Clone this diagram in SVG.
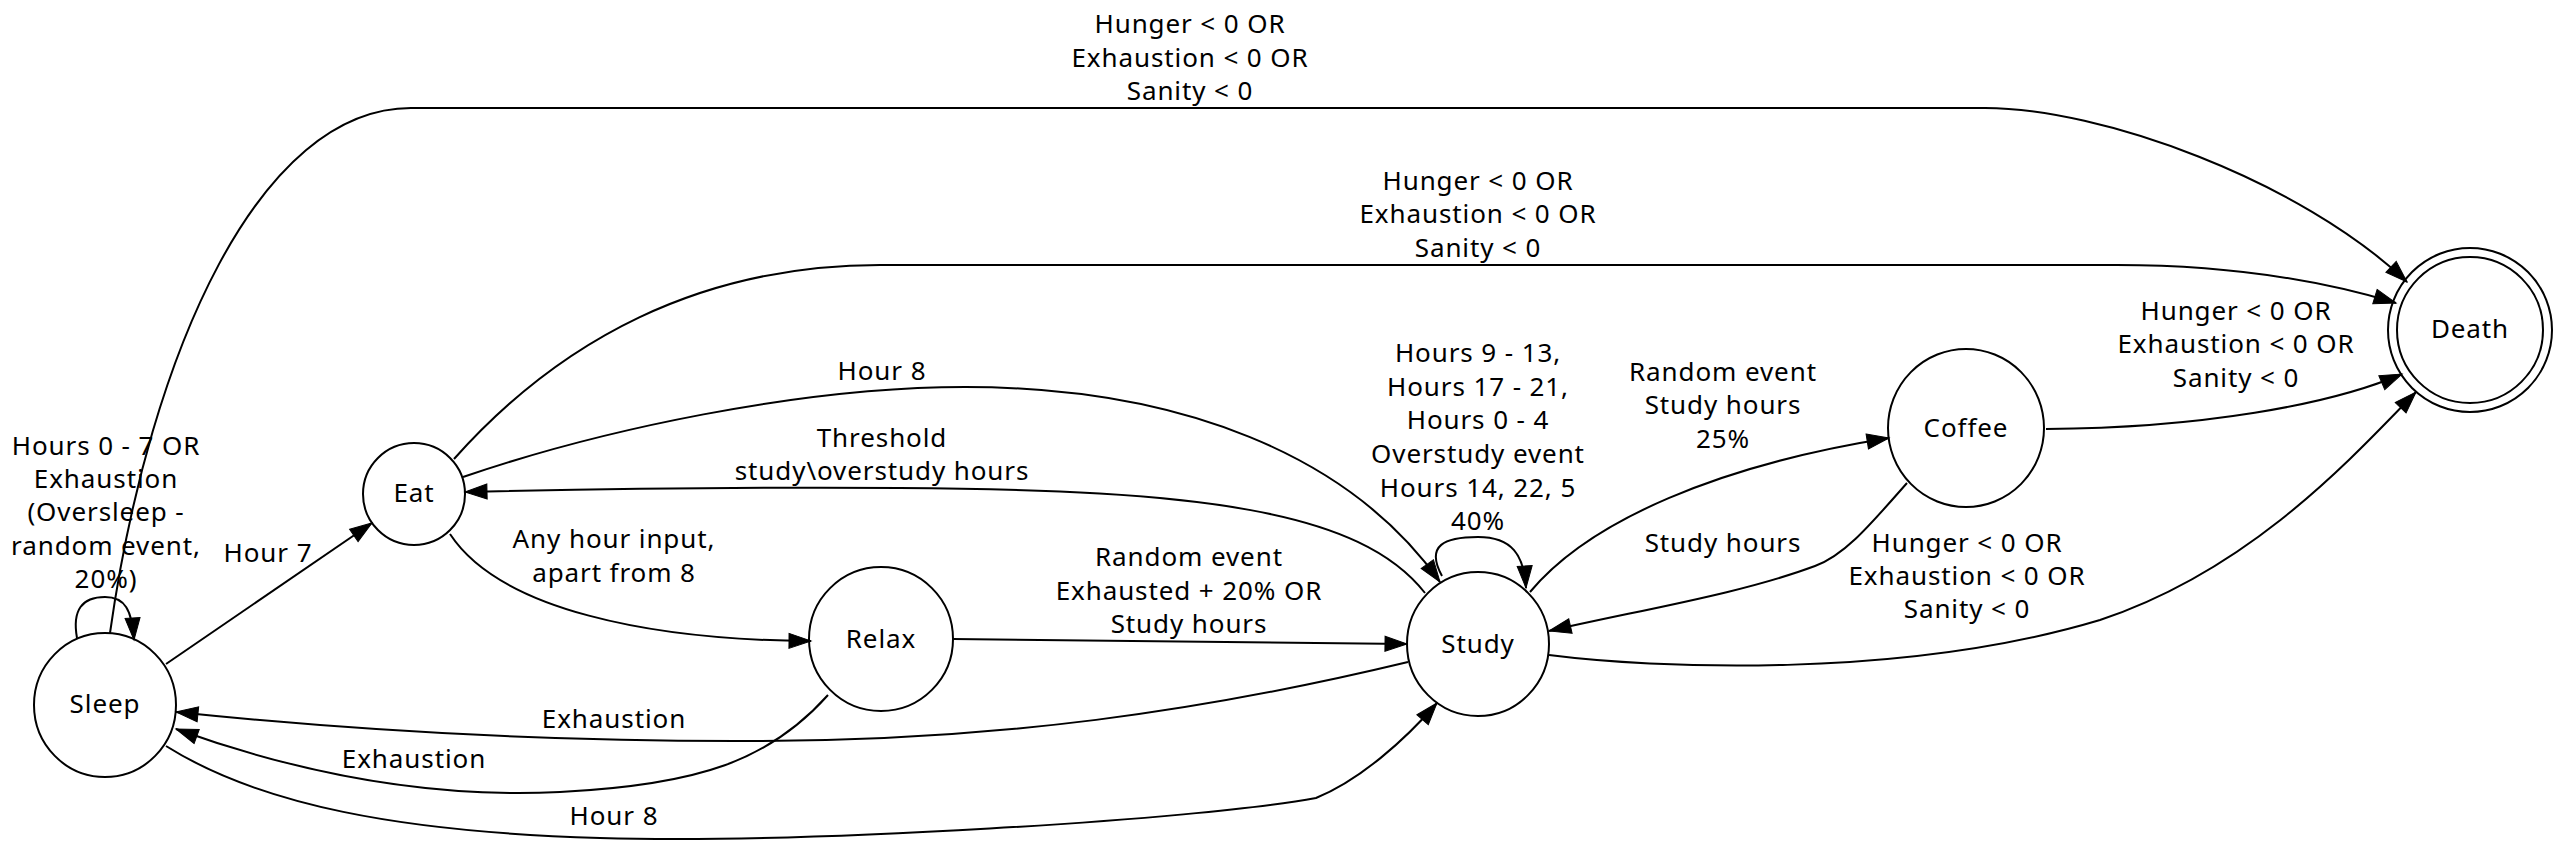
<svg xmlns="http://www.w3.org/2000/svg" width="2566" height="850" viewBox="0 0 2566 850">
<defs>
<marker id="arr" markerUnits="userSpaceOnUse" markerWidth="24" markerHeight="16" refX="22" refY="7.5" orient="auto" overflow="visible">
<path d="M0,0 L22,7.5 L0,15 Z" fill="#000" stroke="#000" stroke-width="1"/>
</marker>
<style>
.node ellipse{fill:none;stroke:#000;stroke-width:2}
.edge path{fill:none;stroke:#000;stroke-width:2;marker-end:url(#arr)}
text{font-family:"Noto Sans","Open Sans",sans-serif;font-size:26px;letter-spacing:0.9px;fill:#000;text-anchor:middle}
</style>
</defs>
<rect width="2566" height="850" fill="#fff"/>
<g id="edges">
<g class="edge" id="sleep-death"><path d="M110,633 C150,350 260,108 411,108 L1985,108 C2100,108 2300,180 2407,282"/>
<text x="1190" y="33">Hunger &lt; 0 OR</text><text x="1190" y="67">Exhaustion &lt; 0 OR</text><text x="1190" y="100">Sanity &lt; 0</text></g>
<g class="edge" id="eat-death"><path d="M454,459 C560,340 700,265 880,265 L2117,265 C2230,265 2320,280 2396,303"/>
<text x="1478" y="190">Hunger &lt; 0 OR</text><text x="1478" y="223">Exhaustion &lt; 0 OR</text><text x="1478" y="257">Sanity &lt; 0</text></g>
<g class="edge" id="eat-study"><path d="M463,477 C600,430 800,387 965,387 C1180,387 1350,455 1440,582"/>
<text x="882" y="380">Hour 8</text></g>
<g class="edge" id="study-eat"><path d="M1425,593 C1360,510 1200,490 900,488 C750,487 600,489 465,492"/>
<text x="882" y="447">Threshold</text><text x="882" y="480">study\overstudy hours</text></g>
<g class="edge" id="sleep-eat"><path d="M166,664 L372,523"/>
<text x="268" y="562">Hour 7</text></g>
<g class="edge" id="eat-relax"><path d="M450,534 C500,610 650,640 811,641"/>
<text x="614" y="548">Any hour input,</text><text x="614" y="582">apart from 8</text></g>
<g class="edge" id="relax-study"><path d="M953,639 L1407,644"/>
<text x="1189" y="566">Random event</text><text x="1189" y="600">Exhausted + 20% OR</text><text x="1189" y="633">Study hours</text></g>
<g class="edge" id="study-sleep"><path d="M1408,662 C1200,712 1000,740 760,741 C550,742 350,730 176,712"/>
<text x="614" y="728">Exhaustion</text></g>
<g class="edge" id="relax-sleep"><path d="M828,695 C770,760 700,785 560,792 C420,799 290,770 176,729"/>
<text x="414" y="768">Exhaustion</text></g>
<g class="edge" id="sleep-study"><path d="M166,746 C260,805 400,832 600,838 C800,844 1200,820 1316,798 C1360,780 1405,740 1437,703"/>
<text x="614" y="825">Hour 8</text></g>
<g class="edge" id="study-study"><path d="M1442,576 C1425,545 1445,537 1478,537 C1512,537 1524,555 1526,588"/>
<text x="1478" y="362">Hours 9 - 13,</text><text x="1478" y="396">Hours 17 - 21,</text><text x="1478" y="429">Hours 0 - 4</text><text x="1478" y="463">Overstudy event</text><text x="1478" y="497">Hours 14, 22, 5</text><text x="1478" y="530">40%</text></g>
<g class="edge" id="sleep-sleep"><path d="M77,638 C72,610 82,597 105,597 C125,597 132,610 134,640"/>
<text x="106" y="455">Hours 0 - 7 OR</text><text x="106" y="488">Exhaustion</text><text x="106" y="521">(Oversleep -</text><text x="106" y="555">random event,</text><text x="106" y="588">20%)</text></g>
<g class="edge" id="study-coffee"><path d="M1530,592 C1590,520 1720,465 1889,438"/>
<text x="1723" y="381">Random event</text><text x="1723" y="414">Study hours</text><text x="1723" y="448">25%</text></g>
<g class="edge" id="coffee-study"><path d="M1907,483 C1870,525 1845,555 1815,566 C1740,594 1640,610 1549,631"/>
<text x="1723" y="552">Study hours</text></g>
<g class="edge" id="coffee-death"><path d="M2046,429 C2200,428 2330,405 2402,374"/>
<text x="2236" y="320">Hunger &lt; 0 OR</text><text x="2236" y="353">Exhaustion &lt; 0 OR</text><text x="2236" y="387">Sanity &lt; 0</text></g>
<g class="edge" id="study-death"><path d="M1549,655 C1650,668 1900,680 2100,620 C2250,570 2350,460 2416,392"/>
<text x="1967" y="552">Hunger &lt; 0 OR</text><text x="1967" y="585">Exhaustion &lt; 0 OR</text><text x="1967" y="618">Sanity &lt; 0</text></g>
</g>
<g class="node" id="sleep"><ellipse cx="105" cy="705" rx="71" ry="72"/><text x="105" y="713">Sleep</text></g>
<g class="node" id="eat"><ellipse cx="414" cy="494" rx="51" ry="51"/><text x="414" y="502">Eat</text></g>
<g class="node" id="relax"><ellipse cx="881" cy="639" rx="72" ry="72"/><text x="881" y="648">Relax</text></g>
<g class="node" id="study"><ellipse cx="1478" cy="644" rx="71" ry="72"/><text x="1478" y="653">Study</text></g>
<g class="node" id="coffee"><ellipse cx="1966" cy="428" rx="78" ry="79"/><text x="1966" y="437">Coffee</text></g>
<g class="node" id="death"><ellipse cx="2470" cy="330" rx="82" ry="82"/><ellipse cx="2470" cy="330" rx="73" ry="73"/><text x="2470" y="338">Death</text></g>
</svg>
